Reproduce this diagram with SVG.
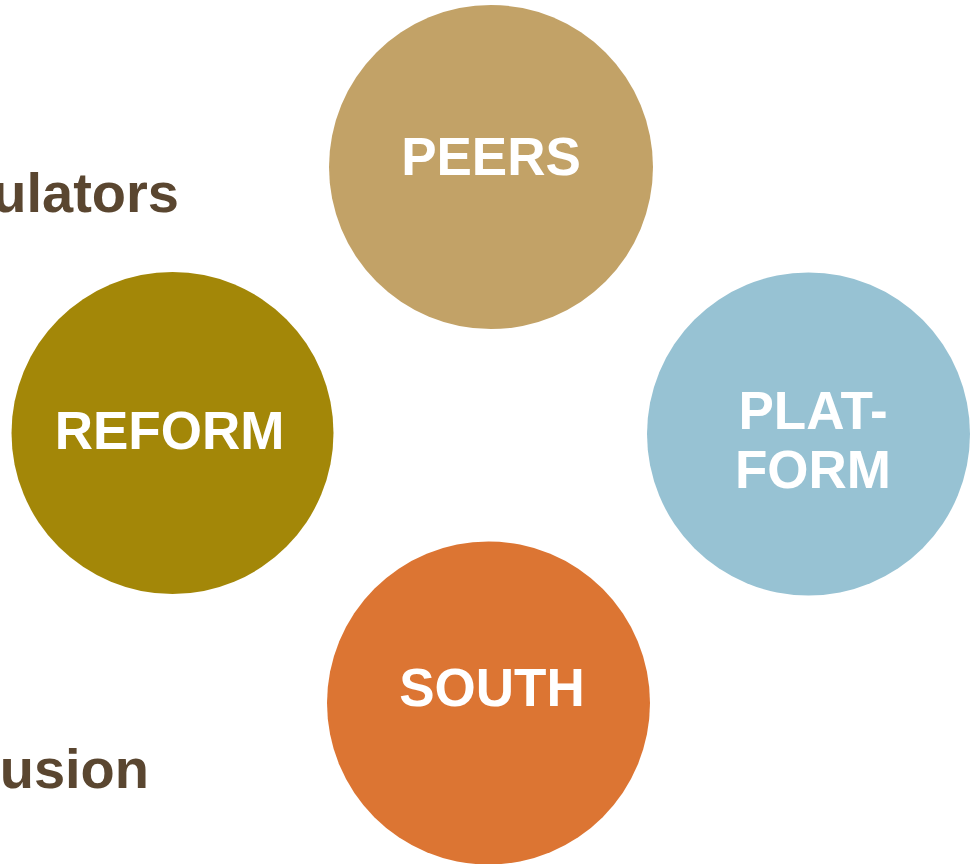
<svg xmlns="http://www.w3.org/2000/svg" width="974" height="864" viewBox="0 0 974 864">
  <style>
    .label { font-family: "Liberation Sans", Arial, sans-serif; font-weight: bold; font-size: 53px; fill: #FFFFFF; text-anchor: middle; }
    .side { font-family: "Liberation Sans", Arial, sans-serif; font-weight: bold; font-size: 56px; fill: #5A4630; text-anchor: end; }
  </style>
  <rect width="974" height="864" fill="#FFFFFF"/>

  <!-- side captions, running off the left edge -->
  <text class="side" x="179" y="212">ulators</text>
  <text class="side" x="149" y="788">usion</text>

  <g id="peers">
    <circle cx="491" cy="167" r="162" fill="#C2A267"/>
    <text class="label" x="491" y="175">PEERS</text>
  </g>

  <g id="reform">
    <circle cx="172.5" cy="433" r="161" fill="#A38708"/>
    <text class="label" x="169.5" y="449">REFORM</text>
  </g>

  <g id="platform">
    <circle cx="808.5" cy="434" r="161.5" fill="#97C2D3"/>
    <text class="label" x="813" y="429">PLAT-</text>
    <text class="label" x="813" y="488">FORM</text>
  </g>

  <g id="south">
    <circle cx="488.5" cy="703" r="161.5" fill="#DC7533"/>
    <text class="label" x="492" y="706">SOUTH</text>
  </g>

  <g id="connectors"></g>
</svg>
